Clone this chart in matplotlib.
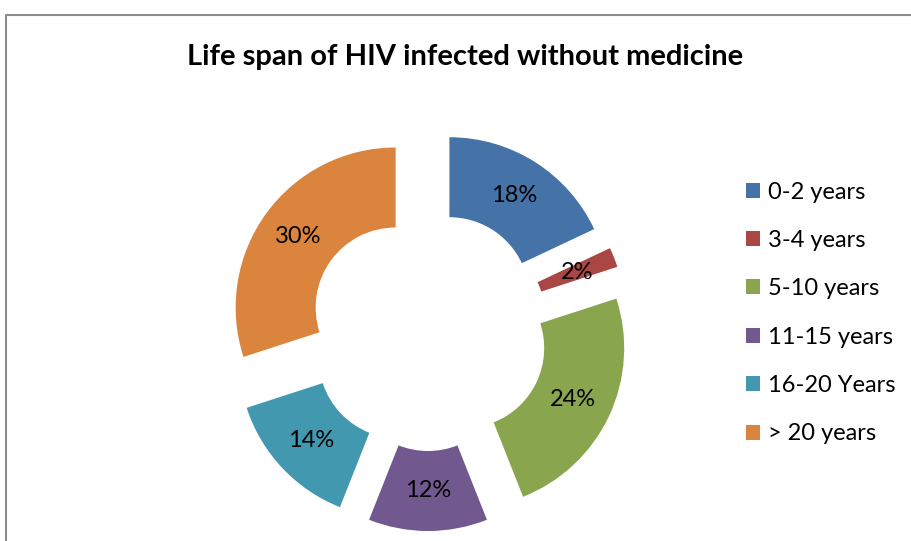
import matplotlib.pyplot as plt
from matplotlib.lines import Line2D

plt.rcParams["font.family"] = ["Lato", "DejaVu Sans"]

labels = ['0-2 years', '3-4 years', '5-10 years', '11-15 years', '16-20 Years', '> 20 years']
values = [18, 2, 24, 12, 14, 30]
colors = ['#4572A7', '#AA4643', '#89A54E', '#71588F', '#4198AF', '#DB843D']

fig = plt.figure(figsize=(9.11, 5.41), dpi=100)
ax = fig.add_axes([0, 0, 1, 1])

wedges, texts, autotexts = ax.pie(values, colors=colors, startangle=90, counterclock=False,
                                  explode=[0.25]*len(values), radius=1,
                                  wedgeprops=dict(width=0.5, linewidth=0),
                                  autopct='%1.0f%%', pctdistance=0.75,
                                  textprops=dict(fontsize=17, color='black'))

# center of ring at (428, 331) px, outer radius 160 px
ax.set_xlim(-428/160, (911-428)/160)
ax.set_ylim(-(541-331)/160, 331/160)
ax.set_aspect('auto')
ax.axis('off')

fig.text(465/911, 1 - 57/541, 'Life span of HIV infected without medicine',
         ha='center', va='center', fontsize=21, fontweight='bold')

leg = fig.legend(wedges, labels, loc='center left', bbox_to_anchor=(746/911, 1 - 313/541),
                 frameon=False, fontsize=17, handlelength=0.6, handleheight=0.6,
                 handletextpad=0.35, labelspacing=1.16, borderaxespad=0, borderpad=0)

# chart border (top and left edges visible)
fig.add_artist(Line2D([6/911, 6/911, 1], [0, 1 - 15/541, 1 - 15/541],
                      transform=fig.transFigure, color='#8c8c8c', linewidth=1.5))

fig.savefig('out.png', dpi=100)
